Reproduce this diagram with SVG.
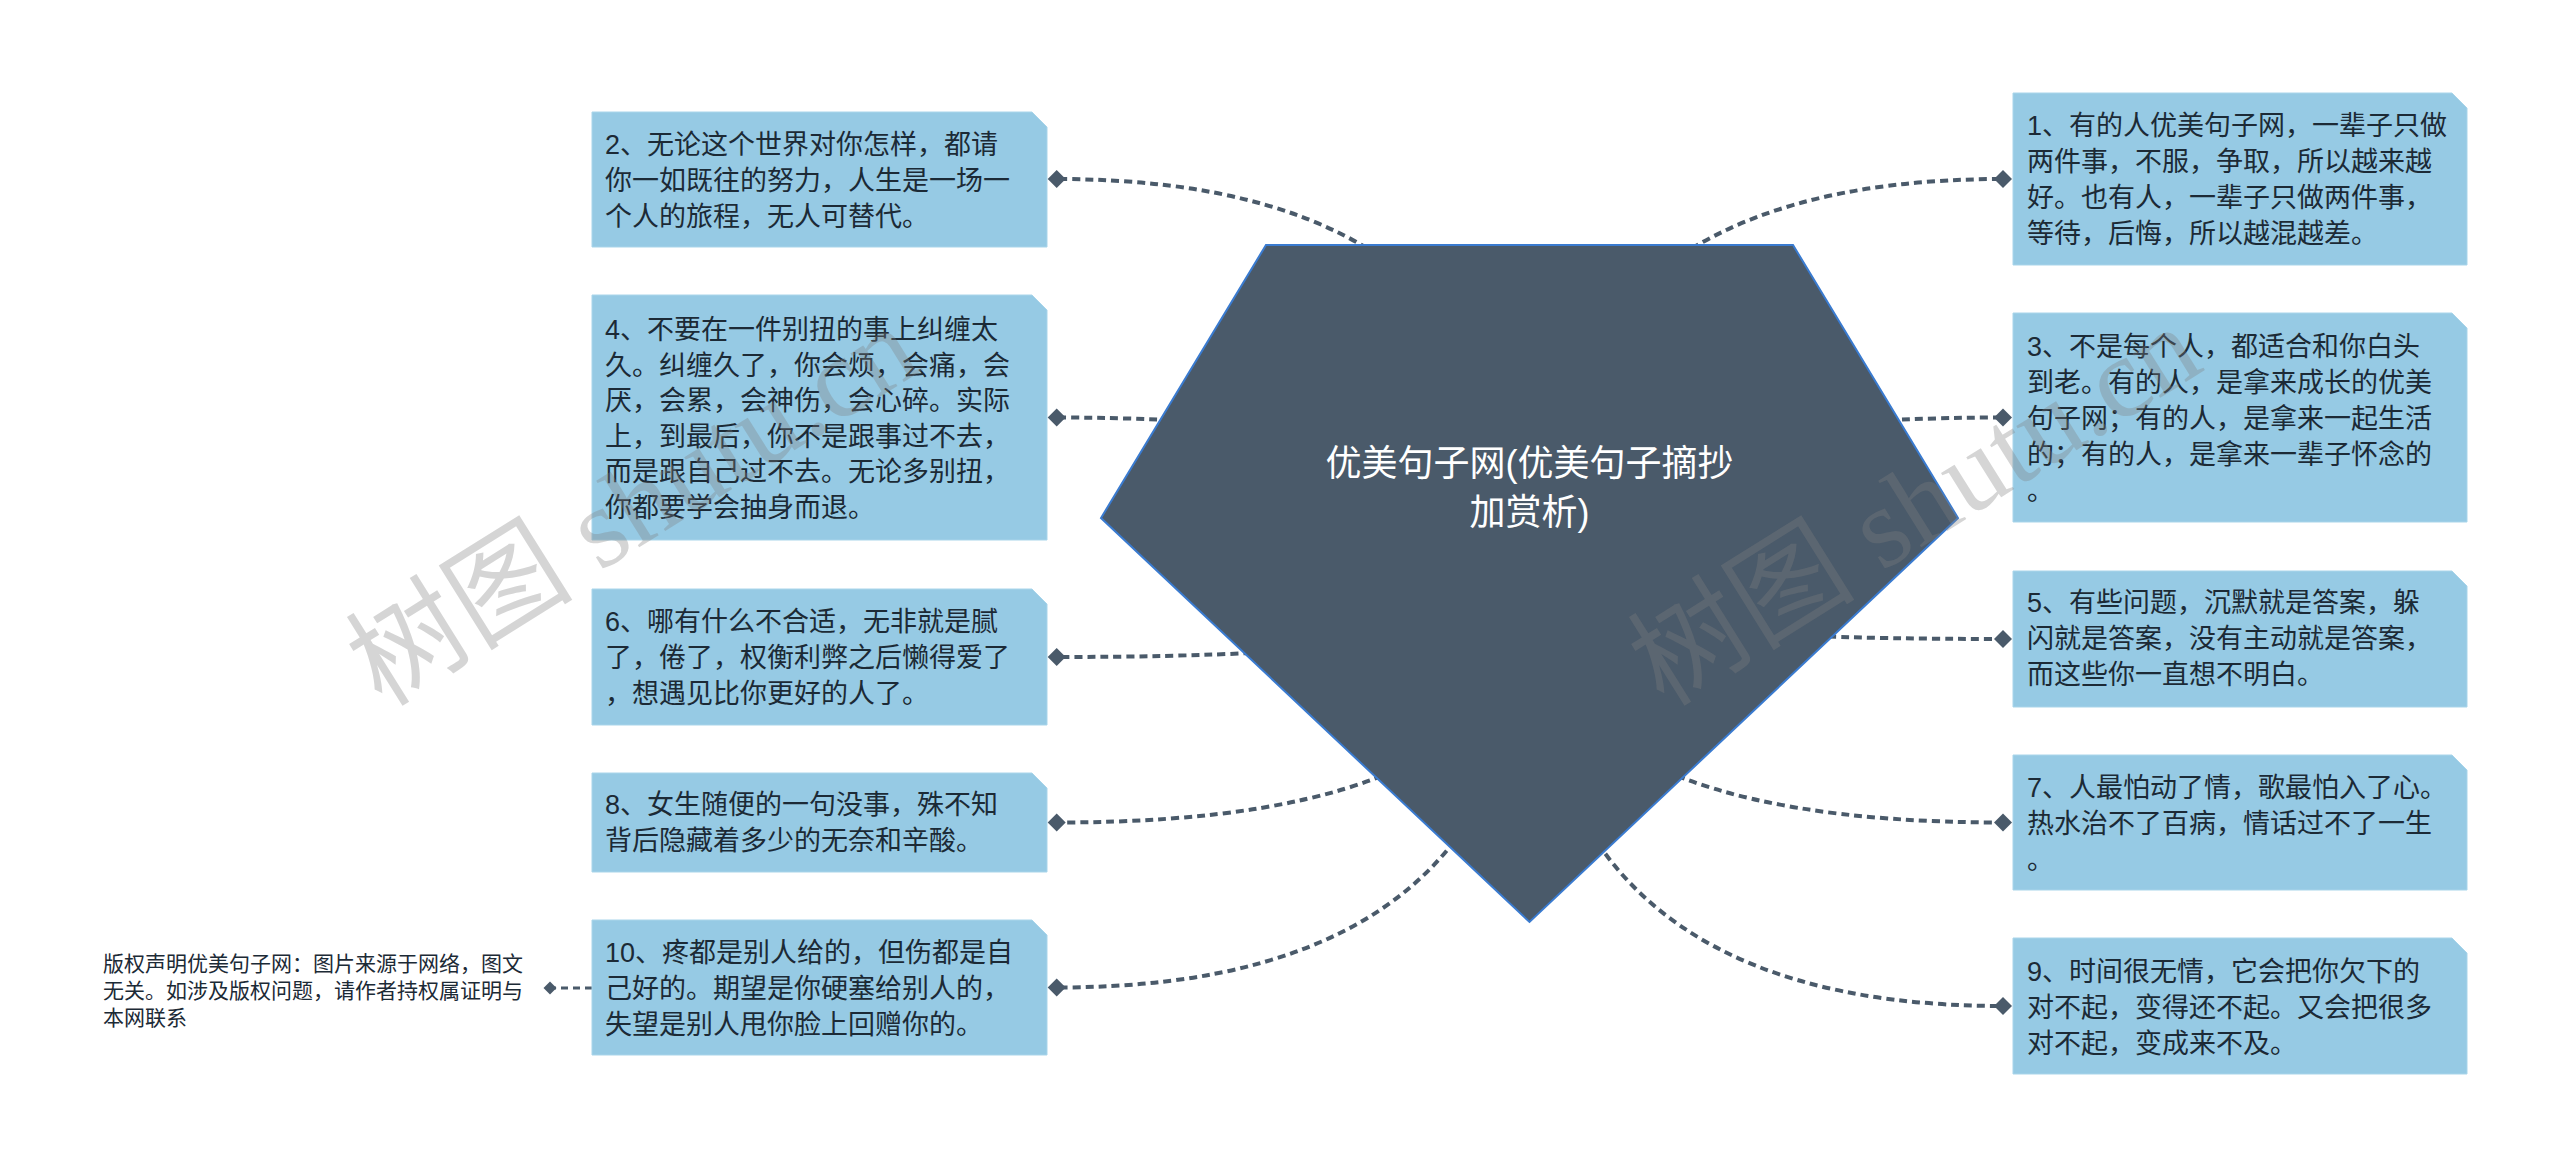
<svg xmlns="http://www.w3.org/2000/svg" width="2560" height="1167" viewBox="0 0 2560 1167">
<defs>
<style>
.box{fill:#96cae4;stroke:#a9d5ea;stroke-width:1}
.t{font-family:"Liberation Sans","Noto Sans CJK SC",sans-serif;font-size:27px;fill:#1c2a36}
.ct{font-family:"Liberation Sans","Noto Sans CJK SC",sans-serif;font-size:36px;fill:#ffffff;text-anchor:middle}
.cp{font-family:"Liberation Sans","Noto Sans CJK SC",sans-serif;font-size:21px;fill:#1c2a36}
.ln{fill:none;stroke:#4a5a6a;stroke-width:4;stroke-dasharray:8 5}
.dm{fill:#4a5a6a}
.wm{font-family:"Liberation Serif","Noto Sans CJK SC",serif;font-size:114px;fill:#808080;fill-opacity:0.33}
</style>
</defs>
<rect width="2560" height="1167" fill="#ffffff"/>
<g id="connectors">
<path class="ln" d="M1529.5 583 Q1529.5 179 1056.7 179"/>
<path class="ln" d="M1529.5 583 Q1529.5 417.5 1056.7 417.5"/>
<path class="ln" d="M1529.5 583 Q1529.5 657 1056.7 657"/>
<path class="ln" d="M1529.5 583 Q1529.5 822.5 1056.7 822.5"/>
<path class="ln" d="M1529.5 583 Q1529.5 987.5 1056.7 987.5"/>
<path class="ln" d="M1529.5 583 Q1529.5 179 2003 179"/>
<path class="ln" d="M1529.5 583 Q1529.5 417.5 2003 417.5"/>
<path class="ln" d="M1529.5 583 Q1529.5 639 2003 639"/>
<path class="ln" d="M1529.5 583 Q1529.5 822.5 2003 822.5"/>
<path class="ln" d="M1529.5 583 Q1529.5 1006 2003 1006"/>
<path d="M592 988 L552 988" fill="none" stroke="#4a5a6a" stroke-width="3" stroke-dasharray="7 5"/>
</g>
<g id="root">
<polygon points="1266,245 1793,245 1958,518 1529.5,922 1101,518" fill="#4a5a6a" stroke="#3a7bd0" stroke-width="2"/>
<text class="ct" x="1529.5" y="476">优美句子网(优美句子摘抄</text>
<text class="ct" x="1529.5" y="525">加赏析)</text>
</g>
<g id="n2">
<polygon class="box" points="592,112 1032,112 1047,127 1047,247 592,247"/>
<path class="dm" d="M1056.7 170 L1065.7 179 L1056.7 188 L1047.7 179 Z"/>
<text class="t" x="605" y="153.5">2、无论这个世界对你怎样，都请</text>
<text class="t" x="605" y="189.5">你一如既往的努力，人生是一场一</text>
<text class="t" x="605" y="225.5">个人的旅程，无人可替代。</text>
</g>
<g id="n4">
<polygon class="box" points="592,295 1032,295 1047,310 1047,540 592,540"/>
<path class="dm" d="M1056.7 408.5 L1065.7 417.5 L1056.7 426.5 L1047.7 417.5 Z"/>
<text class="t" x="605" y="339">4、不要在一件别扭的事上纠缠太</text>
<text class="t" x="605" y="374.5">久。纠缠久了，你会烦，会痛，会</text>
<text class="t" x="605" y="410">厌，会累，会神伤，会心碎。实际</text>
<text class="t" x="605" y="445.5">上，到最后，你不是跟事过不去，</text>
<text class="t" x="605" y="481">而是跟自己过不去。无论多别扭，</text>
<text class="t" x="605" y="516.5">你都要学会抽身而退。</text>
</g>
<g id="n6">
<polygon class="box" points="592,589 1032,589 1047,604 1047,725 592,725"/>
<path class="dm" d="M1056.7 648 L1065.7 657 L1056.7 666 L1047.7 657 Z"/>
<text class="t" x="605" y="630.5">6、哪有什么不合适，无非就是腻</text>
<text class="t" x="605" y="666.5">了，倦了，权衡利弊之后懒得爱了</text>
<text class="t" x="605" y="702.5">，想遇见比你更好的人了。</text>
</g>
<g id="n8">
<polygon class="box" points="592,773 1032,773 1047,788 1047,872 592,872"/>
<path class="dm" d="M1056.7 813.5 L1065.7 822.5 L1056.7 831.5 L1047.7 822.5 Z"/>
<text class="t" x="605" y="813.5">8、女生随便的一句没事，殊不知</text>
<text class="t" x="605" y="849.5">背后隐藏着多少的无奈和辛酸。</text>
</g>
<g id="n10">
<polygon class="box" points="592,920 1032,920 1047,935 1047,1055 592,1055"/>
<path class="dm" d="M1056.7 978.5 L1065.7 987.5 L1056.7 996.5 L1047.7 987.5 Z"/>
<text class="t" x="605" y="962">10、疼都是别人给的，但伤都是自</text>
<text class="t" x="605" y="998">己好的。期望是你硬塞给别人的，</text>
<text class="t" x="605" y="1034">失望是别人甩你脸上回赠你的。</text>
</g>
<g id="copyright">
<path class="dm" d="M550 981.5 L556.5 988 L550 994.5 L543.5 988 Z"/>
<text class="cp" x="103" y="970.5">版权声明优美句子网：图片来源于网络，图文</text>
<text class="cp" x="103" y="997.5">无关。如涉及版权问题，请作者持权属证明与</text>
<text class="cp" x="103" y="1024.5">本网联系</text>
</g>
<g id="n1">
<polygon class="box" points="2013,93 2452,93 2467,108 2467,265 2013,265"/>
<path class="dm" d="M2003 170 L2012 179 L2003 188 L1994 179 Z"/>
<text class="t" x="2027" y="135">1、有的人优美句子网，一辈子只做</text>
<text class="t" x="2027" y="171">两件事，不服，争取，所以越来越</text>
<text class="t" x="2027" y="207">好。也有人，一辈子只做两件事，</text>
<text class="t" x="2027" y="243">等待，后悔，所以越混越差。</text>
</g>
<g id="n3">
<polygon class="box" points="2013,313 2452,313 2467,328 2467,522 2013,522"/>
<path class="dm" d="M2003 408.5 L2012 417.5 L2003 426.5 L1994 417.5 Z"/>
<text class="t" x="2027" y="356">3、不是每个人，都适合和你白头</text>
<text class="t" x="2027" y="392">到老。有的人，是拿来成长的优美</text>
<text class="t" x="2027" y="428">句子网；有的人，是拿来一起生活</text>
<text class="t" x="2027" y="464">的；有的人，是拿来一辈子怀念的</text>
<text class="t" x="2027" y="500">。</text>
</g>
<g id="n5">
<polygon class="box" points="2013,571 2452,571 2467,586 2467,707 2013,707"/>
<path class="dm" d="M2003 630 L2012 639 L2003 648 L1994 639 Z"/>
<text class="t" x="2027" y="612">5、有些问题，沉默就是答案，躲</text>
<text class="t" x="2027" y="648">闪就是答案，没有主动就是答案，</text>
<text class="t" x="2027" y="684">而这些你一直想不明白。</text>
</g>
<g id="n7">
<polygon class="box" points="2013,755 2452,755 2467,770 2467,890 2013,890"/>
<path class="dm" d="M2003 813.5 L2012 822.5 L2003 831.5 L1994 822.5 Z"/>
<text class="t" x="2027" y="796.5">7、人最怕动了情，歌最怕入了心。</text>
<text class="t" x="2027" y="832.5">热水治不了百病，情话过不了一生</text>
<text class="t" x="2027" y="868.5">。</text>
</g>
<g id="n9">
<polygon class="box" points="2013,938 2452,938 2467,953 2467,1074 2013,1074"/>
<path class="dm" d="M2003 997 L2012 1006 L2003 1015 L1994 1006 Z"/>
<text class="t" x="2027" y="980.5">9、时间很无情，它会把你欠下的</text>
<text class="t" x="2027" y="1016.5">对不起，变得还不起。又会把很多</text>
<text class="t" x="2027" y="1052.5">对不起，变成来不及。</text>
</g>
<g id="watermarks">
<text class="wm" transform="translate(382 708) rotate(-32)">树图 shutu.cn</text>
<text class="wm" transform="translate(1664 708) rotate(-32)">树图 shutu.cn</text>
</g>
</svg>
